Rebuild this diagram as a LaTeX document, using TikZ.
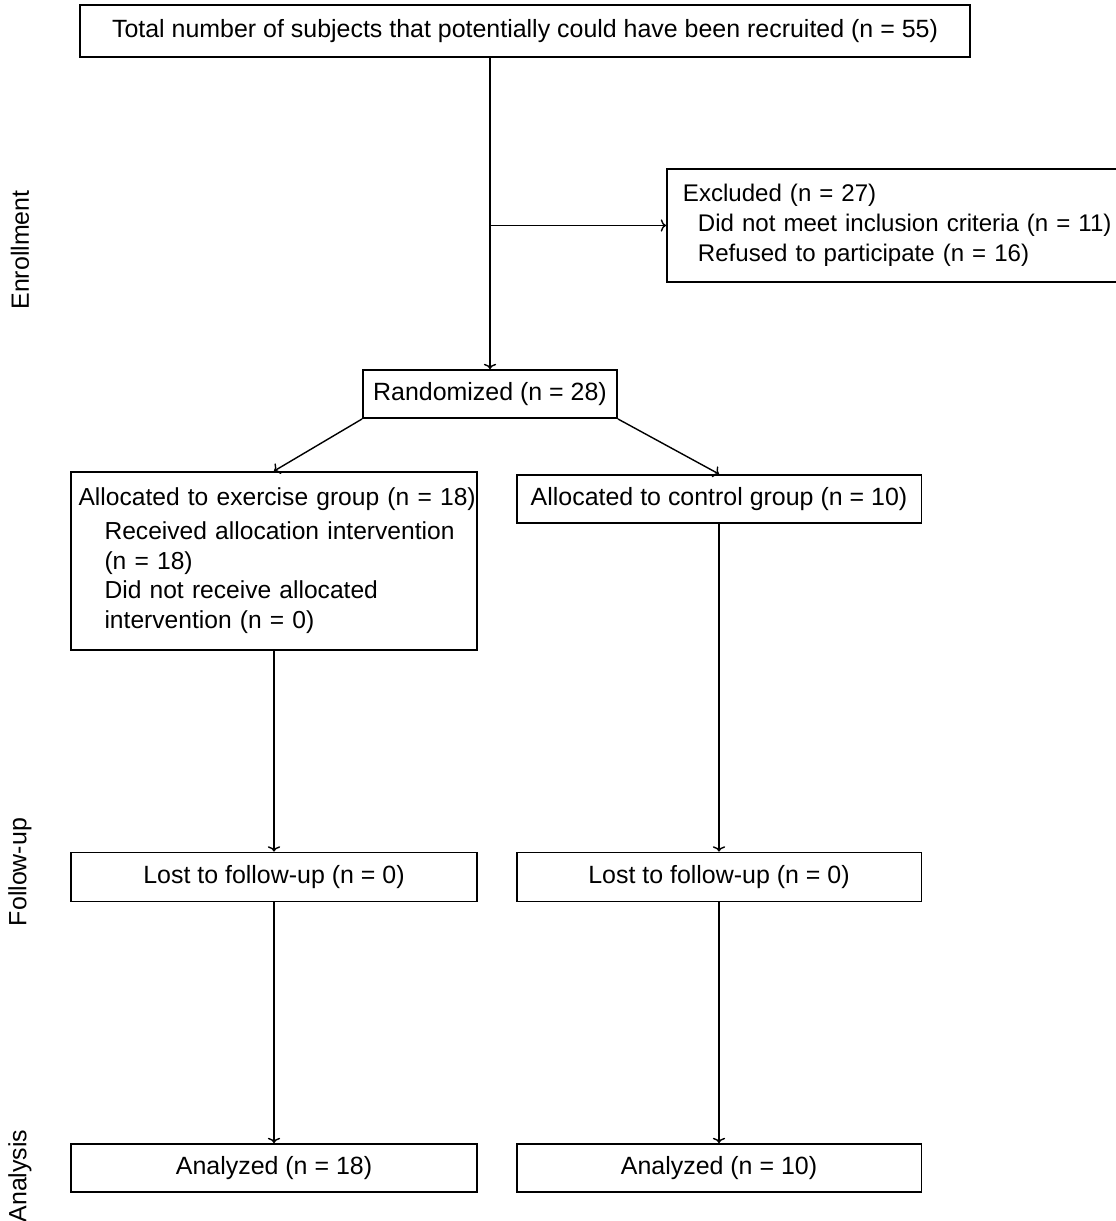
\documentclass[tikz,border=0pt]{standalone}
\usepackage{fontspec}
\setmainfont{Liberation Sans}
\usepackage{tikz}
\usetikzlibrary{arrows.meta}

\tikzset{
  box/.style={draw, line width=1.1pt, inner sep=0pt, align=center},
  flow/.style={-{To[length=3pt, width=7pt]}, line width=0.8pt},
  phase/.style={rotate=90, inner sep=0pt}
}
\newcommand{\ind}[2]{\hspace*{#1}\mbox{#2}}

\begin{document}
\begin{tikzpicture}[x=0.02cm, y=-0.02cm, font=\fontsize{14.2}{17}\selectfont]
		\useasboundingbox (0,0) rectangle (1116,1221);

		\node[box, minimum width=17.8cm, minimum height=1.04cm] (total) at (525,31) {Total number of subjects that potentially could have been recruited (n = 55)};
		\node[box, anchor=north west, text width=8.5cm, inner xsep=0.32cm, minimum height=2.26cm, align=left, font=\fontsize{13.7}{17}\selectfont] (excl) at (666,168) {\mbox{Excluded (n = 27)}\\ \ind{0.3cm}{Did not meet inclusion criteria (n = 11)}\\ \ind{0.3cm}{Refused to participate (n = 16)}};
		\node[box, minimum width=5.08cm, minimum height=0.96cm] (rand) at (490,394) {Randomized (n = 28)};

		\node[box, text width=7.82cm, inner xsep=0.16cm, minimum height=3.56cm, align=left, font=\fontsize{14}{17}\selectfont] (exer) at (274,561) {\mbox{Allocated to exercise group (n = 18)}\\[2pt] \ind{0.52cm}{Received allocation intervention}\\ \ind{0.52cm}{(n = 18)}\\ \ind{0.52cm}{Did not receive allocated}\\ \ind{0.52cm}{intervention (n = 0)}};
		\node[box, minimum width=8.1cm, minimum height=0.96cm] (ctrl) at (719,499) {Allocated to control group (n = 10)};

		\node[box, minimum width=8.14cm, minimum height=0.98cm] (lostA) at (274,877) {Lost to follow-up (n = 0)};
		\node[box, minimum width=8.1cm, minimum height=0.98cm] (lostB) at (719,877) {Lost to follow-up (n = 0)};
		\node[box, minimum width=8.14cm, minimum height=0.96cm] (anaA) at (274,1168) {Analyzed (n = 18)};
		\node[box, minimum width=8.1cm, minimum height=0.96cm] (anaB) at (719,1168) {Analyzed (n = 10)};

		% phases
		\node[phase] (enrol) at (20,250) {Enrollment};
		\node[phase] (follow) at (20,872) {Follow-up};
		\node[phase] (analys) at (20,1176) {Analysis};

		% connectors
		\draw[flow] (total.south -| rand.north) -- (rand.north);
		\draw[flow] (excl.west -| rand.north) -- (excl.west);
		\draw[flow] (rand.south west) -- (exer.north);
		\draw[flow] (rand.south east) -- (ctrl.north);
		\draw[flow] (exer.south) -- (lostA.north);
		\draw[flow] (ctrl.south) -- (lostB.north);
		\draw[flow] (lostA.south) -- (anaA.north);
		\draw[flow] (lostB.south) -- (anaB.north);
	\end{tikzpicture}
\end{document}
